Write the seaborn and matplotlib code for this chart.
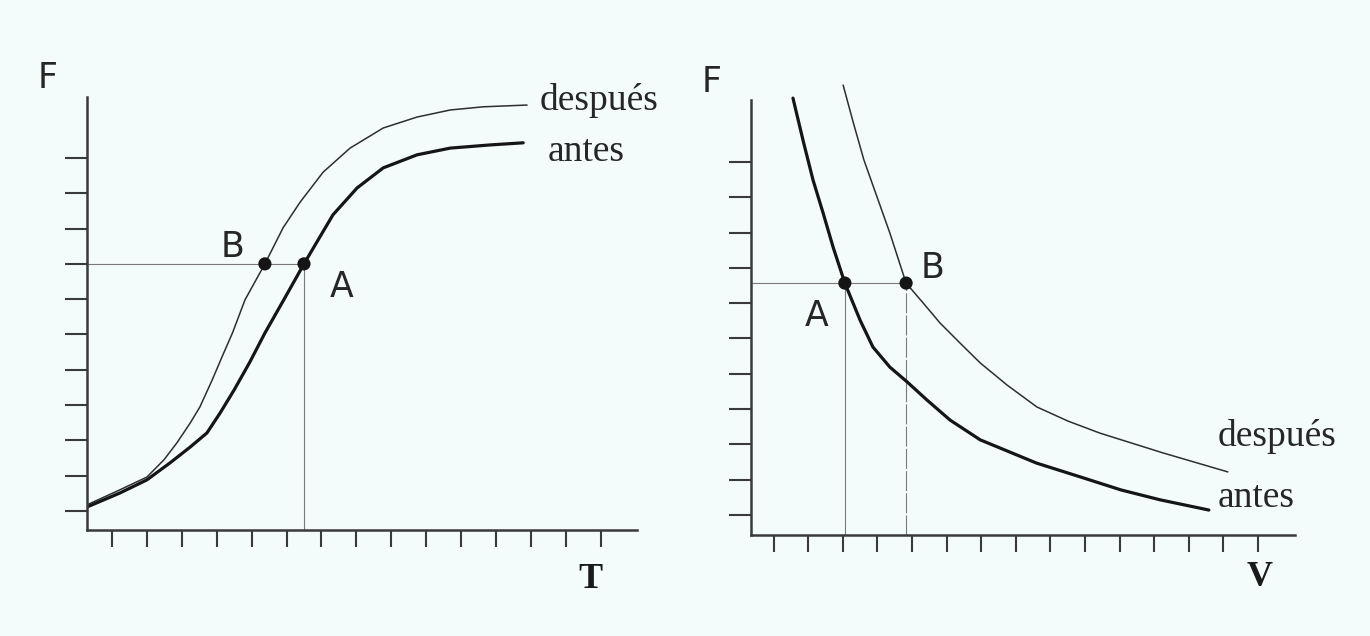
import numpy as np
import pandas as pd
import matplotlib
matplotlib.use("Agg")
import matplotlib.pyplot as plt
import seaborn as sns

sns.set_style("white")

# --- datos (unidades = marcas de los ejes) ---
# panel izquierdo: F frente a T
t_antes = [0.28, 1.23, 2.00, 2.66, 3.24, 3.72, 4.10, 4.50, 4.95, 5.38, 5.92, 6.50,
           6.87, 7.33, 8.02, 8.77, 9.74, 10.69, 11.83, 12.78]
f_antes_t = [1.11, 1.51, 1.88, 2.36, 2.81, 3.21, 3.78, 4.43, 5.22, 6.04, 6.98, 8.00,
             8.62, 9.39, 10.15, 10.72, 11.09, 11.28, 11.37, 11.43]
t_despues = [0.28, 1.23, 2.00, 2.49, 2.86, 3.24, 3.52, 3.87, 4.15, 4.45, 4.81, 5.38,
             5.90, 6.39, 7.05, 7.82, 8.77, 9.74, 10.69, 11.63, 12.89]
f_despues_t = [1.17, 1.60, 1.96, 2.45, 2.93, 3.49, 3.95, 4.71, 5.36, 6.04, 6.98, 8.00,
               9.02, 9.75, 10.60, 11.28, 11.85, 12.16, 12.36, 12.45, 12.50]
puntos_t = [5.38, 6.50]
puntos_ft = [8.0, 8.0]
etiquetas_t = ["B", "A"]

# panel derecho: F frente a V
v_antes = [1.56, 1.85, 2.14, 2.43, 2.72, 3.06, 3.50, 3.87, 4.36, 4.86, 5.43, 6.10,
           6.97, 8.60, 9.86, 11.04, 12.17, 13.58]
f_antes_v = [12.81, 11.62, 10.49, 9.56, 8.59, 7.57, 6.52, 5.76, 5.19, 4.77, 4.26, 3.69,
             3.13, 2.47, 2.08, 1.71, 1.43, 1.14]
v_despues = [3.01, 3.30, 3.61, 3.99, 4.36, 4.83, 5.32, 5.81, 6.39, 6.97, 7.75, 8.61,
             9.51, 10.43, 12.25, 14.13]
f_despues_v = [13.18, 12.13, 11.06, 10.01, 8.99, 7.57, 7.01, 6.44, 5.87, 5.31, 4.68, 4.06,
               3.66, 3.32, 2.76, 2.22]
puntos_v = [3.06, 4.83]
puntos_fv = [7.57, 7.57]
etiquetas_v = ["A", "B"]

ticks_x = list(range(1, 16))
ticks_y = list(range(1, 12))

W, H = 1370, 636
fondo = "#f4fbfb"
fig = plt.figure(figsize=(W / 100, H / 100), dpi=100, facecolor=fondo)

def rect(x0, x1, y_top, y_bot):
    return [x0 / W, 1 - y_bot / H, (x1 - x0) / W, (y_bot - y_top) / H]

ax1 = fig.add_axes(rect(87, 637, 87.4, 530))
ax2 = fig.add_axes(rect(750.5, 1295, 77.3, 535))

def preparar(ax, xlim, ylim, ytop):
    ax.set_facecolor("none")
    ax.set_xlim(*xlim)
    ax.set_ylim(*ylim)
    for s in ["top", "right"]:
        ax.spines[s].set_visible(False)
    for s in ["left", "bottom"]:
        ax.spines[s].set_color("#3a3a3a")
        ax.spines[s].set_linewidth(1.8)
    ax.spines["left"].set_bounds(ylim[0], ytop)
    ax.set_xticks(ticks_x)
    ax.set_yticks(ticks_y)
    ax.set_xticklabels([])
    ax.set_yticklabels([])
    ax.tick_params(axis="x", bottom=True, direction="out", length=12, width=1.5, color="#3a3a3a")
    ax.tick_params(axis="y", left=True, direction="out", length=15.5, width=1.5, color="#3a3a3a")
    ax.grid(False)

preparar(ax1, (0.284, 16.04), (0.46, 13.0), 12.73)
preparar(ax2, (0.333, 16.07), (0.433, 13.4), 12.76)

guia = dict(color="#7a7a7a", linewidth=0.8)

# panel izquierdo
ax1.plot([0.284, puntos_t[1]], [puntos_ft[1], puntos_ft[1]], **guia)
ax1.plot([puntos_t[1], puntos_t[1]], [0.46, puntos_ft[1]], **guia)
sns.lineplot(x=t_despues, y=f_despues_t, sort=False, estimator=None, ax=ax1,
             color="#2e2e2e", linewidth=1.1)
sns.lineplot(x=t_antes, y=f_antes_t, sort=False, estimator=None, ax=ax1,
             color="#151515", linewidth=2.3)
sns.scatterplot(x=puntos_t, y=puntos_ft, ax=ax1, color="#151515", s=90,
                edgecolor="none", zorder=5)

# panel derecho
ax2.plot([0.333, puntos_v[1]], [puntos_fv[1], puntos_fv[1]], **guia)
ax2.plot([puntos_v[0], puntos_v[0]], [0.433, puntos_fv[0]], **guia)
ax2.plot([puntos_v[1], puntos_v[1]], [0.433, puntos_fv[1]], dashes=(18, 2), **guia)
sns.lineplot(x=v_despues, y=f_despues_v, sort=False, estimator=None, ax=ax2,
             color="#2e2e2e", linewidth=1.1)
sns.lineplot(x=v_antes, y=f_antes_v, sort=False, estimator=None, ax=ax2,
             color="#151515", linewidth=2.3)
sns.scatterplot(x=puntos_v, y=puntos_fv, ax=ax2, color="#151515", s=90,
                edgecolor="none", zorder=5)

# textos (posiciones en píxeles de la figura)
def txt(x, y, s, **kw):
    fig.text(x / W, 1 - y / H, s, **kw)

sans = dict(family="DejaVu Sans", fontsize=25, color="#262626", ha="center", va="center")
serif = dict(family="Liberation Serif", fontsize=27, color="#262626", va="center")
negrita = dict(family="Liberation Serif", fontsize=26, fontweight="bold", color="#1a1a1a",
               ha="center", va="center")

txt(48, 78, "F", **sans)
txt(233, 247, etiquetas_t[0], **sans)
txt(342, 287, etiquetas_t[1], **sans)
txt(712, 82, "F", **sans)
txt(817, 316, etiquetas_v[0], **sans)
txt(933, 268, etiquetas_v[1], **sans)

txt(540, 100, "después", ha="left", **serif)
txt(548, 152, "antes", ha="left", **serif)
txt(1218, 436, "después", ha="left", **serif)
txt(1218, 498, "antes", ha="left", **serif)

txt(590, 580, "T", **negrita)
txt(1260, 578, "V", **negrita)

fig.savefig("out.png", dpi=100, facecolor=fondo)
